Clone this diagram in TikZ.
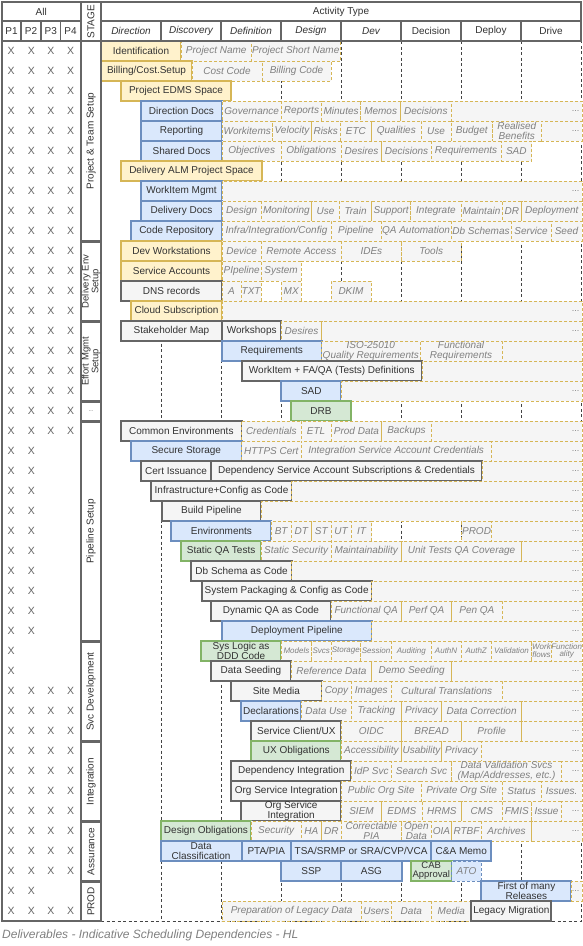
\documentclass[tikz,border=0pt]{standalone}
\usepackage{fontspec}
\setmainfont{Liberation Sans}
\definecolor{hg}{HTML}{666666}
\definecolor{tc}{HTML}{333333}
\definecolor{yf}{HTML}{FFF2CC}
\definecolor{yd}{HTML}{D6B656}
\definecolor{bf}{HTML}{DAE8FC}
\definecolor{bd}{HTML}{6C8EBF}
\definecolor{gf}{HTML}{D5E8D4}
\definecolor{gd}{HTML}{82B366}
\definecolor{kf}{HTML}{F5F5F5}
\definecolor{atc}{HTML}{808080}
\definecolor{gl}{HTML}{444444}
\tikzset{
 base/.style={inner sep=0, outer sep=0, align=center, minimum height=20, font=\fontsize{10}{10}\selectfont, text=tc},
 yb/.style={base, draw=yd, fill=yf, line width=2},
 bb/.style={base, draw=bd, fill=bf, line width=2},
 gb/.style={base, draw=gd, fill=gf, line width=2},
 kb/.style={base, draw=hg, fill=kf, line width=2},
 attr/.style={base, draw=yd, fill=kf, line width=0.7, dash pattern=on 3pt off 2pt, text=atc, font=\fontsize{10}{9.5}\selectfont\itshape},
 sattr/.style={attr, font=\fontsize{8}{7.8}\selectfont\itshape},
 battr/.style={attr, draw=bd, fill=bf},
 dots/.style={inner sep=2.5, text=atc, font=\fontsize{9}{9}\selectfont},
 hd/.style={draw=hg, line width=1.6, fill=white, text=tc, inner sep=0, outer sep=0, align=center, font=\fontsize{10}{11}\selectfont},
 xm/.style={text=hg, font=\fontsize{10.5}{10}\selectfont, inner sep=0},
 gridline/.style={draw=gl, line width=0.55, dash pattern=on 3pt off 2.5pt},
}
\newcommand{\cel}[6]{\node[#1, minimum width={#4-#3}, anchor=west] (#2) at (#3,{51+20*#5}) {#6};}
\newcommand{\trd}[3]{\node[attr, minimum width={582-#2}, anchor=west] (#1) at (#2,{51+20*#3}) {}; \node[dots, anchor=east] (#1d) at (#1.east) {...};}
\newcommand{\tre}[3]{\node[attr, minimum width={582-#2}, anchor=west] (#1) at (#2,{51+20*#3}) {};}
\newcommand{\rcx}[7]{\node[#1, minimum width={#5-#3}, minimum height={#6-#4}] (#2) at ({(#3+#5)/2},{(#4+#6)/2}) {#7};}
\newcommand{\rrx}[7]{\node[#1, rotate=90, minimum width={#6-#4}, minimum height={#5-#3}] (#2) at ({(#3+#5)/2},{(#4+#6)/2}) {#7};}
\begin{document}
\begin{tikzpicture}[x=1pt,y=-1pt]
\useasboundingbox (0,0) rectangle (583,946);
% grid
\foreach \gx in {161,221,281,341,401,461,521} {\draw[gridline] (\gx,41) -- (\gx,921);}
\draw[gridline] (101,921) -- (581.5,921) -- (581.5,41);
% rows
\cel{yb}{r0m}{101}{181}{0}{Identification}
\cel{attr}{r0a}{181}{251.5}{0}{Project Name}
\cel{attr}{r0b}{251.5}{340}{0}{Project Short Name}
\cel{yb}{r1m}{101}{192}{1}{Billing/Cost.Setup}
\cel{attr}{r1a}{192}{262}{1}{Cost Code}
\cel{attr}{r1b}{262}{331}{1}{Billing Code}
\cel{yb}{r2m}{121}{231}{2}{Project EDMS Space}
\cel{bb}{r3m}{141}{222}{3}{Direction Docs}
\cel{attr}{r3a}{222}{281.4}{3}{Governance}
\cel{attr}{r3b}{281.4}{321.6}{3}{Reports}
\cel{attr}{r3c}{321.6}{360.6}{3}{Minutes}
\cel{attr}{r3d}{360.6}{400.7}{3}{Memos}
\cel{attr}{r3e}{400.7}{451}{3}{Decisions}
\trd{r3t}{451}{3}
\cel{bb}{r4m}{141}{222}{4}{Reporting}
\cel{attr}{r4a}{222}{272.5}{4}{Workitems}
\cel{attr}{r4b}{272.5}{311.5}{4}{Velocity}
\cel{attr}{r4c}{311.5}{340}{4}{Risks}
\cel{attr}{r4d}{340}{371.7}{4}{ETC}
\cel{attr}{r4e}{371.7}{421}{4}{Qualities}
\cel{attr}{r4f}{421}{451}{4}{Use}
\cel{attr}{r4g}{451}{492.6}{4}{Budget}
\cel{attr}{r4h}{492.6}{541}{4}{Realised\\Benefits}
\trd{r4t}{541}{4}
\cel{bb}{r5m}{141}{222}{5}{Shared Docs}
\cel{attr}{r5a}{222}{281.4}{5}{Objectives}
\cel{attr}{r5b}{281.4}{341.3}{5}{Obligations}
\cel{attr}{r5c}{341.3}{381.8}{5}{Desires}
\cel{attr}{r5d}{381.8}{431.2}{5}{Decisions}
\cel{attr}{r5e}{431.2}{501}{5}{Requirements}
\cel{attr}{r5f}{501}{531.6}{5}{SAD}
\cel{yb}{r6m}{121}{262}{6}{Delivery ALM Project Space}
\cel{bb}{r7m}{141}{222}{7}{WorkItem Mgmt}
\trd{r7t}{222}{7}
\cel{bb}{r8m}{141}{222}{8}{Delivery Docs}
\cel{attr}{r8a}{222}{261.3}{8}{Design}
\cel{attr}{r8b}{261.3}{311.5}{8}{Monitoring}
\cel{attr}{r8c}{311.5}{339.4}{8}{Use}
\cel{attr}{r8d}{339.4}{371.7}{8}{Train}
\cel{attr}{r8e}{371.7}{410.8}{8}{Support}
\cel{attr}{r8f}{410.8}{461}{8}{Integrate}
\cel{attr}{r8g}{461}{501.9}{8}{Maintain}
\cel{attr}{r8h}{501.9}{521.6}{8}{DR}
\cel{attr}{r8i}{521.6}{582}{8}{Deployment}
\cel{bb}{r9m}{131}{222}{9}{Code Repository}
\cel{attr}{r9a}{222}{331}{9}{Infra/Integration/Config}
\cel{attr}{r9b}{331}{381}{9}{Pipeline}
\cel{attr}{r9c}{381}{451}{9}{QA Automation}
\cel{attr}{r9d}{451}{511}{9}{Db Schemas}
\cel{attr}{r9e}{511}{551}{9}{Service}
\cel{attr}{r9f}{551}{582}{9}{Seed}
\cel{yb}{r10m}{121}{222}{10}{Dev Workstations}
\cel{attr}{r10a}{222}{261.3}{10}{Device}
\cel{attr}{r10b}{261.3}{341.3}{10}{Remote Access}
\cel{attr}{r10c}{341.3}{401.5}{10}{IDEs}
\cel{attr}{r10d}{401.5}{461}{10}{Tools}
\cel{yb}{r11m}{121}{222}{11}{Service Accounts}
\cel{attr}{r11a}{222}{261.3}{11}{PIpeline}
\cel{attr}{r11b}{261.3}{301}{11}{System}
\cel{kb}{r12m}{121}{222}{12}{DNS records}
\cel{attr}{r12a}{222}{241}{12}{A}
\cel{attr}{r12b}{241}{261.3}{12}{TXT}
\cel{attr}{r12c}{281.4}{301}{12}{MX}
\cel{attr}{r12d}{331}{371}{12}{DKIM}
\cel{yb}{r13m}{131}{222}{13}{Cloud Subscription}
\trd{r13t}{222}{13}
\cel{kb}{r14m}{121}{222}{14}{Stakeholder Map}
\cel{kb}{r14w}{222}{281.4}{14}{Workshops}
\cel{attr}{r14a}{281.4}{321.6}{14}{Desires}
\trd{r14t}{321.6}{14}
\cel{bb}{r15m}{222}{321.6}{15}{Requirements}
\cel{attr}{r15a}{321.6}{420}{15}{ISO-25010\\Quality Requirements}
\cel{attr}{r15b}{420}{502}{15}{Functional\\Requirements}
\tre{r15t}{502}{15}
\cel{kb}{r16m}{241.6}{422}{16}{WorkItem + FA/QA (Tests) Definitions}
\tre{r16t}{422}{16}
\cel{bb}{r17m}{281.4}{341.3}{17}{SAD}
\trd{r17t}{341.3}{17}
\cel{gb}{r18m}{291}{351}{18}{DRB}
\cel{kb}{r19m}{121}{241.6}{19}{Common Environments}
\cel{attr}{r19a}{241.6}{301}{19}{Credentials}
\cel{attr}{r19b}{301}{331}{19}{ETL}
\cel{attr}{r19c}{331}{381.8}{19}{Prod Data}
\cel{attr}{r19d}{381.8}{431.2}{19}{Backups}
\trd{r19t}{431.2}{19}
\cel{bb}{r20m}{131}{241.6}{20}{Secure Storage}
\cel{attr}{r20a}{241.6}{301}{20}{HTTPS Cert}
\cel{attr}{r20b}{301}{491.4}{20}{Integration Service Account Credentials}
\trd{r20t}{491.4}{20}
\cel{kb}{r21m}{141}{211}{21}{Cert Issuance}
\cel{kb}{r21n}{211}{482}{21}{Dependency Service Account Subscriptions \& Credentials}
\trd{r21t}{482}{21}
\cel{kb}{r22m}{151.3}{291.8}{22}{Infrastructure+Config as Code}
\trd{r22t}{291.8}{22}
\cel{kb}{r23m}{161.7}{261.3}{23}{Build Pipeline}
\trd{r23t}{261.3}{23}
\cel{bb}{r24m}{171.4}{271.4}{24}{Environments}
\cel{attr}{r24a}{271.4}{291}{24}{BT}
\cel{attr}{r24b}{291}{311.5}{24}{DT}
\cel{attr}{r24c}{311.5}{331}{24}{ST}
\cel{attr}{r24d}{331}{351.3}{24}{UT}
\cel{attr}{r24e}{351.3}{371.7}{24}{IT}
\cel{attr}{r24f}{461.7}{491.4}{24}{PROD}
\trd{r24t}{491.4}{24}
\cel{gb}{r25m}{181}{261.3}{25}{Static QA Tests}
\cel{attr}{r25a}{261.3}{331}{25}{Static Security}
\cel{attr}{r25b}{331}{401.5}{25}{Maintainability}
\cel{attr}{r25c}{401.5}{521.6}{25}{Unit Tests QA Coverage}
\trd{r25t}{521.6}{25}
\cel{kb}{r26m}{191.4}{291.8}{26}{Db Schema as Code}
\trd{r26t}{291.8}{26}
\cel{kb}{r27m}{201.5}{371.7}{27}{System Packaging \& Config as Code}
\trd{r27t}{371.7}{27}
\cel{kb}{r28m}{211}{331}{28}{Dynamic QA as Code}
\cel{attr}{r28a}{331}{401.5}{28}{Functional QA}
\cel{attr}{r28b}{401.5}{451.7}{28}{Perf QA}
\cel{attr}{r28c}{451.7}{502}{28}{Pen QA}
\trd{r28t}{502}{28}
\cel{bb}{r29m}{222}{371.7}{29}{Deployment Pipeline}
\trd{r29t}{371.7}{29}
\cel{gb}{r30m}{200.7}{281.4}{30}{Sys Logic as\\DDD Code}
\cel{sattr}{r30a}{281.4}{311.5}{30}{Models}
\cel{sattr}{r30b}{311.5}{331}{30}{Svcs}
\cel{sattr}{r30c}{331}{360.6}{30}{Storage}
\cel{sattr}{r30d}{360.6}{391.4}{30}{Session}
\cel{sattr}{r30e}{391.4}{431.2}{30}{Auditing}
\cel{sattr}{r30f}{431.2}{461}{30}{AuthN}
\cel{sattr}{r30g}{461}{491.4}{30}{AuthZ}
\cel{sattr}{r30h}{491.4}{531.6}{30}{Validation}
\cel{sattr}{r30i}{531.6}{551.3}{30}{Work\\flows}
\cel{sattr}{r30j}{551.3}{582}{30}{Function\\ality}
\cel{kb}{r31m}{211}{291}{31}{Data Seeding}
\cel{attr}{r31a}{291}{371.7}{31}{Reference Data}
\cel{attr}{r31b}{371.7}{451.7}{31}{Demo Seeding}
\trd{r31t}{451.7}{31}
\cel{kb}{r32m}{231.2}{321.6}{32}{Site Media}
\cel{attr}{r32a}{321.6}{351.3}{32}{Copy}
\cel{attr}{r32b}{351.3}{391.4}{32}{Images}
\cel{attr}{r32c}{391.4}{502}{32}{Cultural Translations}
\trd{r32t}{502}{32}
\cel{bb}{r33m}{241}{301}{33}{Declarations}
\cel{attr}{r33a}{301}{351.3}{33}{Data Use}
\cel{attr}{r33b}{351.3}{401.5}{33}{Tracking}
\cel{attr}{r33c}{401.5}{441.6}{33}{Privacy}
\cel{attr}{r33d}{441.6}{521.6}{33}{Data Correction}
\trd{r33t}{521.6}{33}
\cel{kb}{r34m}{251.3}{341.3}{34}{Service Client/UX}
\cel{attr}{r34a}{341.3}{401.5}{34}{OIDC}
\cel{attr}{r34b}{401.5}{461.7}{34}{BREAD}
\cel{attr}{r34c}{461.7}{521.6}{34}{Profile}
\trd{r34t}{521.6}{34}
\cel{gb}{r35m}{251.3}{341.3}{35}{UX Obligations}
\cel{attr}{r35a}{341.3}{401.5}{35}{Accessibility}
\cel{attr}{r35b}{401.5}{441.6}{35}{Usability}
\cel{attr}{r35c}{441.6}{481.4}{35}{Privacy}
\trd{r35t}{481.4}{35}
\cel{kb}{r36m}{231.2}{351.3}{36}{Dependency Integration}
\cel{attr}{r36a}{351.3}{391.4}{36}{IdP Svc}
\cel{attr}{r36b}{391.4}{451.7}{36}{Search Svc}
\cel{attr}{r36c}{451.7}{561.3}{36}{Data Validation Svcs\\(Map/Addresses, etc.)}
\trd{r36t}{561.3}{36}
\cel{kb}{r37m}{231.2}{341.3}{37}{Org Service Integration}
\cel{attr}{r37a}{341.3}{421.2}{37}{Public Org Site}
\cel{attr}{r37b}{421.2}{502}{37}{Private Org Site}
\cel{attr}{r37c}{502}{541.3}{37}{Status}
\cel{attr}{r37d}{541.3}{582}{37}{Issues.}
\cel{kb}{r38m}{241}{341.3}{38}{Org Service\\Integration}
\cel{attr}{r38a}{341.3}{381.8}{38}{SIEM}
\cel{attr}{r38b}{381.8}{422}{38}{EDMS}
\cel{attr}{r38c}{422}{461.7}{38}{HRMS}
\cel{attr}{r38d}{461.7}{502}{38}{CMS}
\cel{attr}{r38e}{502}{531.6}{38}{FMIS}
\cel{attr}{r38f}{531.6}{561.3}{38}{Issue}
\trd{r38t}{561.3}{38}
\cel{gb}{r39m}{160.6}{251.3}{39}{Design Obligations}
\cel{attr}{r39a}{251.3}{301}{39}{Security}
\cel{attr}{r39b}{301}{321.6}{39}{HA}
\cel{attr}{r39c}{321.6}{341.3}{39}{DR}
\cel{attr}{r39d}{341.3}{401.5}{39}{Correctable\\PIA}
\cel{attr}{r39e}{401.5}{431.2}{39}{Open\\Data}
\cel{attr}{r39f}{431.2}{451.7}{39}{OIA}
\cel{attr}{r39g}{451.7}{481.4}{39}{RTBF}
\cel{attr}{r39h}{481.4}{531.6}{39}{Archives}
\trd{r39t}{531.6}{39}
\cel{bb}{r40m}{160.6}{241.6}{40}{Data\\Classification}
\cel{bb}{r40a}{241.6}{291}{40}{PTA/PIA}
\cel{bb}{r40b}{291}{431.2}{40}{TSA/SRMP or SRA/CVP/VCA}
\cel{bb}{r40c}{431.2}{491.4}{40}{C\&A Memo}
\cel{bb}{r41m}{281.4}{341.3}{41}{SSP}
\cel{bb}{r41a}{341.3}{401.5}{41}{ASG}
\cel{gb,font=\fontsize{9.5}{9}\selectfont}{r41b}{410.8}{451.7}{41}{CAB\\Approval}
\cel{battr}{r41c}{451.7}{481.4}{41}{ATO}
\cel{bb}{r42m}{481.4}{571.4}{42}{First of many\\Releases}
\trd{r42t}{571.4}{42}
\cel{attr}{r43a}{222}{361.3}{43}{Preparation of Legacy Data}
\cel{attr}{r43b}{361.3}{391.4}{43}{Users}
\cel{attr}{r43c}{391.4}{431.2}{43}{Data}
\cel{attr}{r43d}{431.2}{471.4}{43}{Media}
\cel{kb}{r43m}{471.4}{551.3}{43}{Legacy Migration}
% header
\rcx{hd}{hAll}{2}{2}{80.5}{21}{All}
\rcx{hd}{hP1}{2}{21}{21}{41}{P1}
\rcx{hd}{hP2}{21}{21}{41}{41}{P2}
\rcx{hd}{hP3}{41}{21}{60.5}{41}{P3}
\rcx{hd}{hP4}{60.5}{21}{80.5}{41}{P4}
\rrx{hd}{hSt}{81}{2}{101}{41}{STAGE}
\rcx{hd}{hAT}{101}{2}{581}{21}{Activity Type}
\rcx{hd}{c1}{101}{21}{161}{41}{\itshape Direction}
\rcx{hd}{c2}{161}{21}{221}{41}{\itshape Discovery}
\rcx{hd}{c3}{221}{21}{281}{41}{\itshape Definition}
\rcx{hd}{c4}{281}{21}{341}{41}{\itshape Design}
\rcx{hd}{c5}{341}{21}{401}{41}{\itshape Dev}
\rcx{hd}{c6}{401}{21}{461}{41}{Decision}
\rcx{hd}{c7}{461}{21}{521}{41}{Deploy}
\rcx{hd}{c8}{521}{21}{581}{41}{Drive}
% left panel
\rcx{hd}{lp}{2}{41}{80.5}{921}{}
\rrx{hd}{s1}{81}{41}{101}{241}{Project \& Team Setup}
\rrx{hd,font=\fontsize{9.5}{8.5}\selectfont}{s2}{81}{242}{101}{321}{Delivery Env\\Setup}
\rrx{hd,font=\fontsize{9.5}{8.5}\selectfont}{s3}{81}{322}{101}{401}{Effort Mgmt\\Setup}
\rcx{hd,font=\fontsize{5}{5}\selectfont}{s4}{81}{402}{101}{421}{...}
\rrx{hd}{s5}{81}{422}{101}{641}{Pipeline Setup}
\rrx{hd}{s6}{81}{642}{101}{741}{Svc Development}
\rrx{hd}{s7}{81}{742}{101}{821}{Integration}
\rrx{hd}{s8}{81}{822}{101}{881}{Assurance}
\rrx{hd}{s9}{81}{882}{101}{921}{PROD}
% X marks
\foreach \r in {0,...,19,32,33,...,41,43} {
  \foreach \c/\cx in {1/11.2,2/31.4,3/51,4/70.6} {\node[xm] (x\r-\c) at (\cx,{51+20*\r}) {X};}
}
\foreach \r in {20,...,29,42} {
  \foreach \c/\cx in {1/11.2,2/31.4} {\node[xm] (x\r-\c) at (\cx,{51+20*\r}) {X};}
}
\foreach \r in {30,31} {\node[xm] (x\r-1) at (11.2,{51+20*\r}) {X};}
% caption
\node[anchor=west, inner sep=0, text=atc, font=\fontsize{12}{12}\selectfont\itshape] (cap) at (2,935) {Deliverables - Indicative Scheduling Dependencies - HL};
\end{tikzpicture}
\end{document}
